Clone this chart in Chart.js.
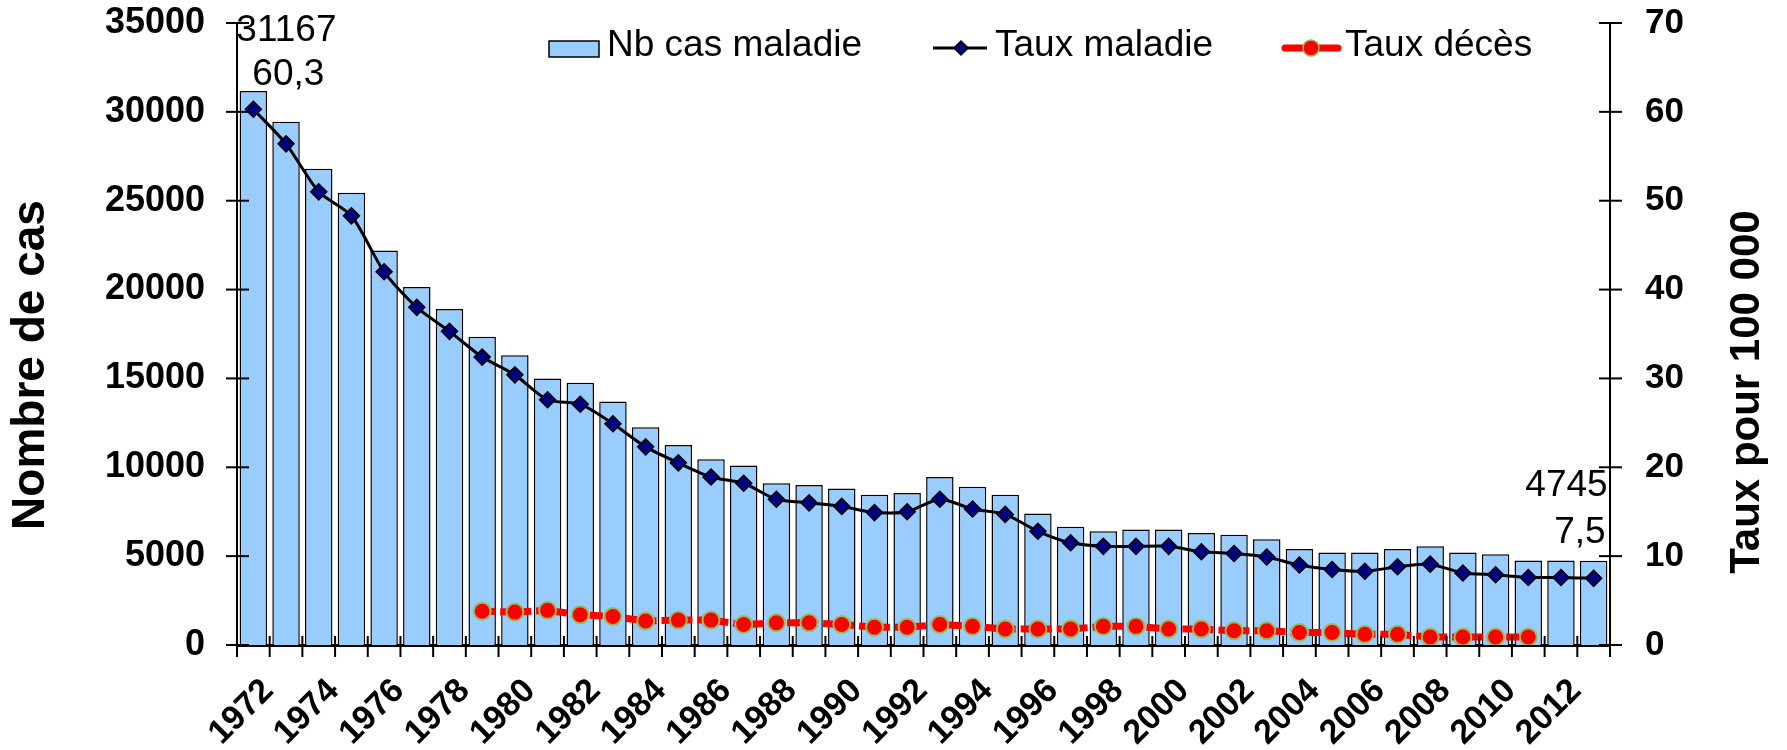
<!DOCTYPE html>
<html>
<head>
<meta charset="utf-8">
<script src="https://cdn.jsdelivr.net/npm/chart.js@4/dist/chart.umd.min.js"></script>
<style>
  html, body { margin: 0; padding: 0; background: #fff; }
  #wrap { width: 1787px; height: 750px; }
</style>
</head>
<body>
<div id="wrap"><canvas id="chart"></canvas></div>
<script>
// years on the x axis
const years = ['1972', '1973', '1974', '1975', '1976', '1977', '1978', '1979', '1980', '1981',
    '1982', '1983', '1984', '1985', '1986', '1987', '1988', '1989', '1990', '1991',
    '1992', '1993', '1994', '1995', '1996', '1997', '1998', '1999', '2000', '2001',
    '2002', '2003', '2004', '2005', '2006', '2007', '2008', '2009', '2010', '2011',
    '2012', '2013'];

// number of cases (left axis)
const nbCas = [31167, 29450, 26800, 25450, 22200, 20150, 18900, 17350, 16300, 15000,
    14750, 13700, 12250, 11250, 10450, 10100, 9100, 9000, 8800, 8450,
    8550, 9450, 8900, 8450, 7400, 6650, 6400, 6500, 6500, 6300,
    6200, 5950, 5400, 5200, 5200, 5400, 5550, 5200, 5100, 4750,
    4750, 4745];

// rates per 100 000 (right axis)
const tauxMaladie = [60.3, 56.4, 51.0, 48.3, 42.0, 38.0, 35.3, 32.4, 30.4, 27.6,
    27.1, 24.9, 22.3, 20.5, 18.9, 18.2, 16.4, 16.0, 15.6, 14.9,
    15.0, 16.4, 15.3, 14.7, 12.8, 11.5, 11.1, 11.1, 11.1, 10.5,
    10.3, 9.9, 9.0, 8.5, 8.3, 8.8, 9.1, 8.1, 7.9, 7.6,
    7.6, 7.5];

const tauxDeces = [null, null, null, null, null, null, null, 3.8, 3.7, 3.9,
    3.4, 3.2, 2.7, 2.8, 2.8, 2.3, 2.5, 2.5, 2.3, 2.0,
    2.0, 2.3, 2.1, 1.8, 1.8, 1.8, 2.1, 2.1, 1.8, 1.8,
    1.6, 1.6, 1.4, 1.4, 1.2, 1.2, 0.9, 0.9, 0.9, 0.9,
    null, null];

const leftTicks = { min: 0, max: 35000, step: 5000 };
const rightTicks = { min: 0, max: 70, step: 10 };

const FONT = 'Arial, "Liberation Sans", sans-serif';
const BAR_BLUE = '#99CCFF';
const NAVY = '#000080';
const RED = '#FF0000';
const OLIVE = '#9BBB59';

// tick marks crossing the axes, like the original spreadsheet chart
const crossTicks = {
    id: 'crossTicks',
    afterDatasetsDraw(chart) {
        const ctx = chart.ctx;
        const { x, y, y1 } = chart.scales;
        ctx.save();
        ctx.strokeStyle = '#000';
        ctx.lineWidth = 2;
        y.ticks.forEach((t, i) => {
            const p = y.getPixelForTick(i);
            ctx.beginPath(); ctx.moveTo(y.right - 11, p); ctx.lineTo(y.right + 12, p); ctx.stroke();
        });
        y1.ticks.forEach((t, i) => {
            const p = y1.getPixelForTick(i);
            ctx.beginPath(); ctx.moveTo(y1.left - 11, p); ctx.lineTo(y1.left + 12, p); ctx.stroke();
        });
        const half = (x.getPixelForValue(1) - x.getPixelForValue(0)) / 2;
        for (let i = 0; i <= years.length; i++) {
            const p = x.getPixelForValue(i) - half;
            ctx.beginPath(); ctx.moveTo(p, x.top - 9); ctx.lineTo(p, x.top + 12); ctx.stroke();
        }
        ctx.restore();
    }
};

// axis titles, both read bottom to top
const axisTitles = {
    id: 'axisTitles',
    afterDraw(chart) {
        const ctx = chart.ctx;
        ctx.save();
        ctx.fillStyle = '#000';
        ctx.textAlign = 'center';
        ctx.textBaseline = 'middle';
        [['Nombre de cas', 31, 365, 46], ['Taux pour 100 000', 1747, 392, 42]].forEach(([txt, cx, cy, size]) => {
            ctx.save();
            ctx.font = 'bold ' + size + 'px ' + FONT;
            ctx.translate(cx, cy);
            ctx.rotate(-Math.PI / 2);
            ctx.fillText(txt, 0, 0);
            ctx.restore();
        });
        ctx.restore();
    }
};

// legend drawn inside the plot, top
const legendInside = {
    id: 'legendInside',
    afterDraw(chart) {
        const ctx = chart.ctx;
        const cy = 48;
        const ty = 46;
        ctx.save();
        ctx.font = '37px ' + FONT;
        ctx.textBaseline = 'middle';
        ctx.textAlign = 'left';

        ctx.fillStyle = BAR_BLUE;
        ctx.fillRect(549, 41, 50, 16);
        ctx.strokeStyle = '#000';
        ctx.lineWidth = 1.5;
        ctx.strokeRect(549, 41, 50, 16);
        ctx.fillStyle = '#000';
        ctx.fillText('Nb cas maladie', 607, ty);

        ctx.strokeStyle = '#000';
        ctx.lineWidth = 3;
        ctx.beginPath(); ctx.moveTo(933, cy); ctx.lineTo(987, cy); ctx.stroke();
        ctx.beginPath();
        ctx.moveTo(961, cy - 7); ctx.lineTo(968, cy); ctx.lineTo(961, cy + 7); ctx.lineTo(954, cy); ctx.closePath();
        ctx.fillStyle = NAVY; ctx.fill();
        ctx.lineWidth = 1.5; ctx.stroke();
        ctx.fillStyle = '#000';
        ctx.fillText('Taux maladie', 995, ty);

        ctx.strokeStyle = RED;
        ctx.lineWidth = 7;
        ctx.lineCap = 'round';
        ctx.beginPath(); ctx.moveTo(1285, cy); ctx.lineTo(1338, cy); ctx.stroke();
        ctx.beginPath(); ctx.arc(1311, cy, 8, 0, Math.PI * 2);
        ctx.fillStyle = RED; ctx.fill();
        ctx.strokeStyle = OLIVE; ctx.lineWidth = 1.5; ctx.stroke();
        ctx.fillStyle = '#000';
        ctx.fillText('Taux décès', 1345, ty);
        ctx.restore();
    }
};

// first and last values written next to the marks
const endLabels = {
    id: 'endLabels',
    afterDraw(chart) {
        const ctx = chart.ctx;
        const bars = chart.getDatasetMeta(0).data;
        const pts = chart.getDatasetMeta(1).data;
        const last = years.length - 1;
        const fmt = v => String(v).replace('.', ',');
        ctx.save();
        ctx.font = '37px ' + FONT;
        ctx.fillStyle = '#000';
        ctx.textBaseline = 'middle';
        ctx.textAlign = 'left';
        ctx.fillText(String(nbCas[0]), bars[0].x - 17, bars[0].y - 60);
        ctx.fillText(fmt(tauxMaladie[0]), pts[0].x - 1, pts[0].y - 34);
        ctx.textAlign = 'right';
        ctx.fillText(String(nbCas[last]), bars[last].x + 14, bars[last].y - 75);
        ctx.fillText(fmt(tauxMaladie[last]), pts[last].x + 12, pts[last].y - 46);
        ctx.restore();
    }
};

const chart = new Chart(document.getElementById('chart'), {
    data: {
        labels: years,
        datasets: [{
            type: 'bar',
            label: 'Nb cas maladie',
            data: nbCas,
            yAxisID: 'y',
            backgroundColor: BAR_BLUE,
            borderColor: '#000',
            borderWidth: 1.5,
            barPercentage: 1,
            categoryPercentage: 0.84,
            order: 3
        }, {
            type: 'line',
            label: 'Taux maladie',
            data: tauxMaladie,
            yAxisID: 'y1',
            borderColor: '#000',
            borderWidth: 3,
            tension: 0.25,
            pointStyle: 'rectRot',
            pointRadius: 8,
            pointBackgroundColor: NAVY,
            pointBorderColor: '#000',
            pointBorderWidth: 1.5,
            order: 2
        }, {
            type: 'line',
            label: 'Taux décès',
            data: tauxDeces,
            yAxisID: 'y1',
            borderColor: RED,
            borderWidth: 7,
            borderDash: [13, 5],
            tension: 0,
            pointStyle: 'circle',
            pointRadius: 8.5,
            pointBackgroundColor: RED,
            pointBorderColor: OLIVE,
            pointBorderWidth: 2,
            order: 1
        }]
    },
    options: {
        responsive: true,
        maintainAspectRatio: false,
        devicePixelRatio: 1,
        animation: false,
        layout: { padding: { top: 23, left: 0, right: 0, bottom: 0 } },
        plugins: {
            legend: { display: false },
            tooltip: { enabled: false }
        },
        scales: {
            x: {
                offset: true,
                grid: { display: false, drawTicks: true, tickLength: 12 },
                border: { display: true, color: '#000', width: 3 },
                ticks: {
                    autoSkip: false,
                    maxRotation: 45,
                    minRotation: 45,
                    padding: 14,
                    labelOffset: 15,
                    color: '#000',
                    font: { family: FONT, size: 34, weight: 'bold' },
                    callback: (v, i) => (i % 2 === 0 ? years[i] : '')
                },
                afterFit: s => { s.height = 105; }
            },
            y: {
                position: 'left',
                min: leftTicks.min,
                max: leftTicks.max,
                grid: { display: false, drawTicks: true, tickLength: 32 },
                border: { display: true, color: '#000', width: 2 },
                ticks: {
                    stepSize: leftTicks.step,
                    padding: 0,
                    color: '#000',
                    font: { family: FONT, size: 36, weight: 'bold' },
                    callback: v => String(v)
                },
                afterFit: s => { s.width = 237; }
            },
            y1: {
                position: 'right',
                min: rightTicks.min,
                max: rightTicks.max,
                grid: { display: false, drawTicks: true, tickLength: 35 },
                border: { display: true, color: '#000', width: 2 },
                ticks: {
                    stepSize: rightTicks.step,
                    padding: 0,
                    color: '#000',
                    font: { family: FONT, size: 35, weight: 'bold' },
                    callback: v => String(v)
                },
                afterFit: s => { s.width = 177; }
            }
        }
    },
    plugins: [crossTicks, axisTitles, legendInside, endLabels]
});
</script>
</body>
</html>
